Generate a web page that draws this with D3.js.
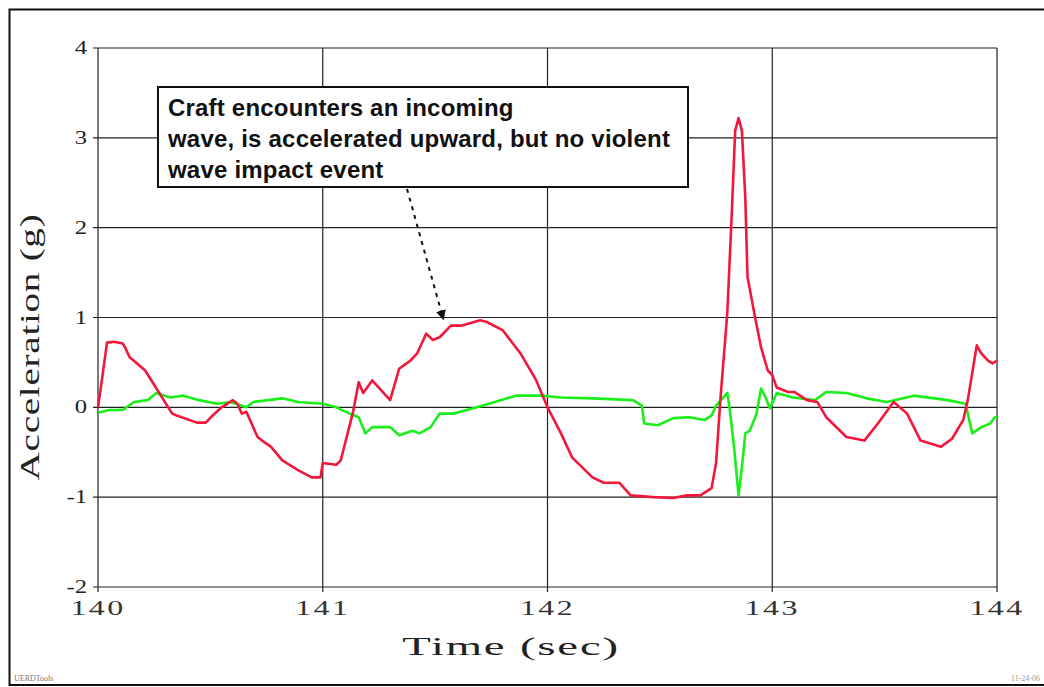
<!DOCTYPE html>
<html>
<head>
<meta charset="utf-8">
<script src="https://cdn.jsdelivr.net/npm/d3@7"></script>
<style>
  body { margin: 0; background: #fff; }
  svg { display: block; }
</style>
</head>
<body>
<svg id="chart" width="1044" height="687"></svg>
<script>
// values: [time (s), acceleration (g)]
const redSeries = [
  [140.00,0.0],[140.02,0.35],[140.04,0.72],[140.07,0.73],[140.11,0.71],[140.12,0.67],[140.14,0.56],
  [140.21,0.41],[140.26,0.21],[140.33,-0.07],[140.35,-0.09],[140.44,-0.17],[140.48,-0.17],[140.51,-0.09],
  [140.55,0.0],[140.60,0.08],[140.62,0.04],[140.64,-0.07],[140.66,-0.05],[140.71,-0.33],[140.73,-0.37],
  [140.77,-0.44],[140.82,-0.59],[140.89,-0.70],[140.95,-0.78],[140.99,-0.78],[141.00,-0.62],[141.06,-0.64],
  [141.08,-0.59],[141.135,-0.05],[141.16,0.28],[141.18,0.16],[141.22,0.30],[141.30,0.08],[141.34,0.43],
  [141.39,0.52],[141.42,0.60],[141.46,0.82],[141.49,0.75],[141.52,0.78],[141.57,0.91],[141.62,0.91],
  [141.70,0.97],[141.73,0.95],[141.80,0.86],[141.88,0.60],[141.95,0.30],[142.00,0.0],[142.06,-0.29],
  [142.11,-0.56],[142.20,-0.78],[142.25,-0.84],[142.32,-0.84],[142.37,-0.98],[142.47,-1.0],[142.56,-1.01],
  [142.62,-0.98],[142.68,-0.98],[142.73,-0.90],[142.75,-0.62],[142.77,0.11],[142.80,1.05],[142.82,2.16],
  [142.835,3.08],[142.85,3.22],[142.865,3.08],[142.88,2.34],[142.89,1.45],[142.92,1.05],[142.95,0.67],
  [142.98,0.41],[143.00,0.36],[143.02,0.22],[143.07,0.17],[143.10,0.17],[143.155,0.08],[143.20,0.06],
  [143.24,-0.11],[143.33,-0.33],[143.41,-0.37],[143.47,-0.18],[143.54,0.06],[143.60,-0.07],[143.66,-0.37],
  [143.75,-0.44],[143.80,-0.35],[143.85,-0.14],[143.87,0.08],[143.91,0.69],[143.93,0.60],[143.96,0.52],
  [143.98,0.49],[144.00,0.52]
];
const greenSeries = [
  [140.00,-0.06],[140.05,-0.03],[140.11,-0.03],[140.16,0.06],[140.22,0.08],[140.26,0.16],[140.32,0.11],
  [140.38,0.13],[140.45,0.08],[140.53,0.04],[140.59,0.06],[140.66,0.0],[140.69,0.06],[140.82,0.10],
  [140.89,0.06],[141.00,0.04],[141.06,0.0],[141.12,-0.07],[141.16,-0.11],[141.19,-0.29],[141.22,-0.22],
  [141.30,-0.22],[141.34,-0.31],[141.40,-0.26],[141.43,-0.29],[141.48,-0.22],[141.52,-0.07],[141.58,-0.07],
  [141.67,-0.01],[141.74,0.04],[141.86,0.13],[141.97,0.13],[142.06,0.11],[142.20,0.10],[142.38,0.08],
  [142.42,0.02],[142.43,-0.18],[142.49,-0.20],[142.56,-0.12],[142.63,-0.11],[142.70,-0.14],[142.73,-0.09],
  [142.75,0.02],[142.80,0.16],[142.81,0.0],[142.83,-0.44],[142.85,-0.98],[142.865,-0.67],[142.88,-0.29],
  [142.90,-0.26],[142.93,-0.07],[142.95,0.21],[142.97,0.11],[142.99,-0.01],[143.02,0.16],[143.09,0.11],
  [143.19,0.08],[143.24,0.17],[143.33,0.16],[143.42,0.10],[143.51,0.06],[143.63,0.13],[143.78,0.08],
  [143.86,0.04],[143.89,-0.29],[143.93,-0.22],[143.97,-0.18],[143.99,-0.11],[144.00,-0.11]
];
const xTicks = [140, 141, 142, 143, 144];
const yTicks = [-2, -1, 0, 1, 2, 3, 4];
const noteLines = [
  "Craft encounters an incoming",
  "wave, is accelerated upward, but no violent",
  "wave impact event"
];
const notePoint = [141.55, 0.98]; // where the arrow points

const svg = d3.select("#chart");
const margin = {left: 98, right: 47, top: 48, bottom: 100};
const W = 1044, H = 687;

const x = d3.scaleLinear().domain([140, 144]).range([margin.left, W - margin.right]);
const y = d3.scaleLinear().domain([-2, 4]).range([H - margin.bottom, margin.top]);

// outer frame (no right edge in the original)
svg.append("path")
  .attr("d", `M${W},9.5 H9.5 V685 H${W}`)
  .attr("fill", "none").attr("stroke", "#111").attr("stroke-width", 2);

const serif = "'Liberation Serif', 'DejaVu Serif', serif";

// grid
const grid = svg.append("g").attr("stroke", "#222").attr("stroke-width", 1.2);
grid.selectAll("line.h").data(yTicks).join("line")
  .attr("x1", x(140) - 5).attr("x2", x(144))
  .attr("y1", d => y(d)).attr("y2", d => y(d));
grid.selectAll("line.v").data(xTicks).join("line")
  .attr("x1", d => x(d)).attr("x2", d => x(d))
  .attr("y1", y(4)).attr("y2", y(-2) + 5);

// tick labels (the original text is stretched sideways)
svg.append("g").selectAll("text").data(yTicks).join("text")
  .attr("transform", d => `translate(${x(140) - 11},${y(d) + 6}) scale(1.3,1)`)
  .attr("text-anchor", "end")
  .attr("font-family", serif).attr("font-size", 19).attr("fill", "#222")
  .text(d => d);
svg.append("g").selectAll("text").data(xTicks).join("text")
  .attr("transform", d => `translate(${x(d)},${y(-2) + 28}) scale(1.6,1)`)
  .attr("text-anchor", "middle")
  .attr("font-family", serif).attr("font-size", 20).attr("letter-spacing", 1.5).attr("fill", "#333")
  .text(d => d);

// axis titles
svg.append("text")
  .attr("transform", `translate(511,655) scale(1.8,1)`)
  .attr("text-anchor", "middle")
  .attr("font-family", serif).attr("font-size", 26).attr("letter-spacing", 1).attr("fill", "#222")
  .text("Time (sec)");
svg.append("text")
  .attr("transform", `translate(39,347) rotate(-90) scale(1.4,1)`)
  .attr("text-anchor", "middle")
  .attr("font-family", serif).attr("font-size", 28).attr("letter-spacing", 0.5).attr("fill", "#222")
  .text("Acceleration (g)");

// series
const line = d3.line().x(d => x(d[0])).y(d => y(d[1]));
svg.append("path").datum(greenSeries)
  .attr("d", line).attr("fill", "none")
  .attr("stroke", "#19f019").attr("stroke-width", 2.6).attr("stroke-linejoin", "round");
svg.append("path").datum(redSeries)
  .attr("d", line).attr("fill", "none")
  .attr("stroke", "#f2183c").attr("stroke-width", 2.6).attr("stroke-linejoin", "round");

// annotation box
const box = {x: 158, y: 87, w: 530, h: 100};
svg.append("rect")
  .attr("x", box.x).attr("y", box.y).attr("width", box.w).attr("height", box.h)
  .attr("fill", "#fff").attr("stroke", "#111").attr("stroke-width", 2);
svg.append("g").selectAll("text").data(noteLines).join("text")
  .attr("x", box.x + 10).attr("y", (d, i) => box.y + 29 + i * 31)
  .attr("font-family", "'Liberation Sans Narrow', 'Arial Narrow', 'Liberation Sans', sans-serif")
  .attr("font-weight", "bold").attr("font-size", 24).attr("letter-spacing", 0.2).attr("fill", "#111")
  .text(d => d);

// dashed arrow
svg.append("defs").append("marker")
  .attr("id", "arrow").attr("viewBox", "0 0 10 10")
  .attr("refX", 9).attr("refY", 5).attr("markerWidth", 5).attr("markerHeight", 5)
  .attr("orient", "auto")
  .append("path").attr("d", "M0,0 L10,5 L0,10 z").attr("fill", "#111");
svg.append("line")
  .attr("x1", 407).attr("y1", box.y + box.h + 2)
  .attr("x2", x(notePoint[0]) - 3).attr("y2", y(notePoint[1]))
  .attr("stroke", "#111").attr("stroke-width", 2).attr("stroke-dasharray", "4,5")
  .attr("marker-end", "url(#arrow)");

// small footer marks
svg.append("text").attr("x", 14).attr("y", 681)
  .attr("font-family", serif).attr("font-size", 8).attr("fill", "#777").text("UERDTools");
svg.append("text").attr("x", 1040).attr("y", 681).attr("text-anchor", "end")
  .attr("font-family", serif).attr("font-size", 8).attr("fill", "#999").text("11-24-06");
</script>
</body>
</html>
